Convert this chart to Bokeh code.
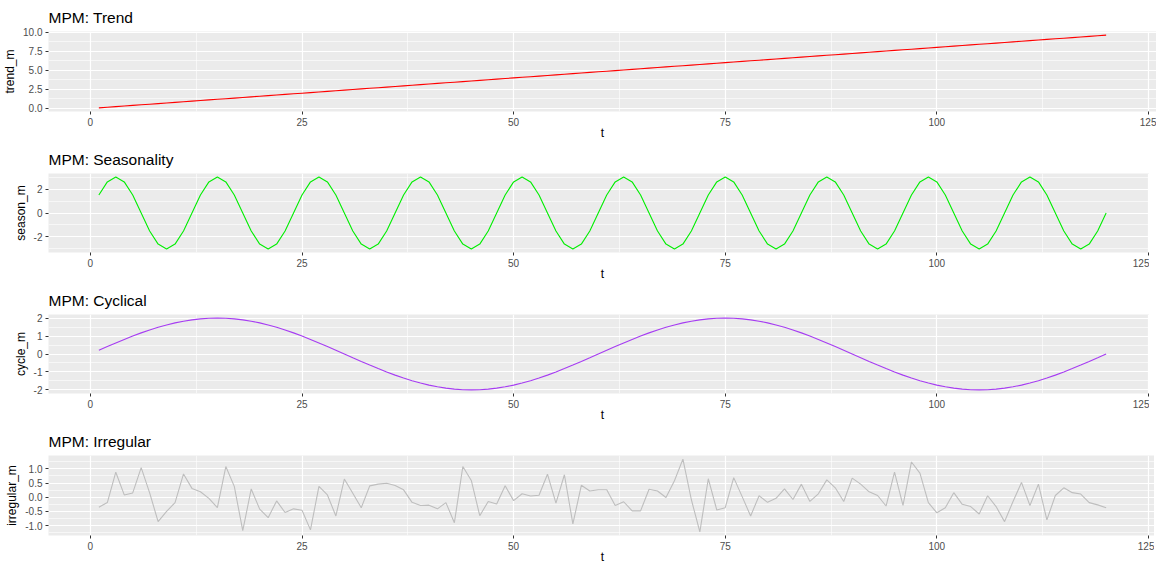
from bokeh.plotting import figure
from bokeh.layouts import column
from bokeh.models import Range1d, FixedTicker, PrintfTickFormatter
from bokeh.embed import file_html
from bokeh.resources import INLINE

t = list(range(1, 121))

trend_m = [
    0.08, 0.16, 0.24, 0.32, 0.40, 0.48, 0.56, 0.64, 0.72, 0.80,
    0.88, 0.96, 1.04, 1.12, 1.20, 1.28, 1.36, 1.44, 1.52, 1.60,
    1.68, 1.76, 1.84, 1.92, 2.00, 2.08, 2.16, 2.24, 2.32, 2.40,
    2.48, 2.56, 2.64, 2.72, 2.80, 2.88, 2.96, 3.04, 3.12, 3.20,
    3.28, 3.36, 3.44, 3.52, 3.60, 3.68, 3.76, 3.84, 3.92, 4.00,
    4.08, 4.16, 4.24, 4.32, 4.40, 4.48, 4.56, 4.64, 4.72, 4.80,
    4.88, 4.96, 5.04, 5.12, 5.20, 5.28, 5.36, 5.44, 5.52, 5.60,
    5.68, 5.76, 5.84, 5.92, 6.00, 6.08, 6.16, 6.24, 6.32, 6.40,
    6.48, 6.56, 6.64, 6.72, 6.80, 6.88, 6.96, 7.04, 7.12, 7.20,
    7.28, 7.36, 7.44, 7.52, 7.60, 7.68, 7.76, 7.84, 7.92, 8.00,
    8.08, 8.16, 8.24, 8.32, 8.40, 8.48, 8.56, 8.64, 8.72, 8.80,
    8.88, 8.96, 9.04, 9.12, 9.20, 9.28, 9.36, 9.44, 9.52, 9.60,
]

season_m = [
    1.5, 2.598, 3.0, 2.598, 1.5, 0.0, -1.5, -2.598, -3.0, -2.598, -1.5, 0.0,
    1.5, 2.598, 3.0, 2.598, 1.5, 0.0, -1.5, -2.598, -3.0, -2.598, -1.5, 0.0,
    1.5, 2.598, 3.0, 2.598, 1.5, 0.0, -1.5, -2.598, -3.0, -2.598, -1.5, 0.0,
    1.5, 2.598, 3.0, 2.598, 1.5, 0.0, -1.5, -2.598, -3.0, -2.598, -1.5, 0.0,
    1.5, 2.598, 3.0, 2.598, 1.5, 0.0, -1.5, -2.598, -3.0, -2.598, -1.5, 0.0,
    1.5, 2.598, 3.0, 2.598, 1.5, 0.0, -1.5, -2.598, -3.0, -2.598, -1.5, 0.0,
    1.5, 2.598, 3.0, 2.598, 1.5, 0.0, -1.5, -2.598, -3.0, -2.598, -1.5, 0.0,
    1.5, 2.598, 3.0, 2.598, 1.5, 0.0, -1.5, -2.598, -3.0, -2.598, -1.5, 0.0,
    1.5, 2.598, 3.0, 2.598, 1.5, 0.0, -1.5, -2.598, -3.0, -2.598, -1.5, 0.0,
    1.5, 2.598, 3.0, 2.598, 1.5, 0.0, -1.5, -2.598, -3.0, -2.598, -1.5, 0.0,
]

cycle_m = [
    0.209, 0.416, 0.618, 0.813, 1.0, 1.176, 1.338, 1.486, 1.618, 1.732,
    1.827, 1.902, 1.956, 1.989, 2.0, 1.989, 1.956, 1.902, 1.827, 1.732,
    1.618, 1.486, 1.338, 1.176, 1.0, 0.813, 0.618, 0.416, 0.209, 0.0,
    -0.209, -0.416, -0.618, -0.813, -1.0, -1.176, -1.338, -1.486, -1.618, -1.732,
    -1.827, -1.902, -1.956, -1.989, -2.0, -1.989, -1.956, -1.902, -1.827, -1.732,
    -1.618, -1.486, -1.338, -1.176, -1.0, -0.813, -0.618, -0.416, -0.209, 0.0,
    0.209, 0.416, 0.618, 0.813, 1.0, 1.176, 1.338, 1.486, 1.618, 1.732,
    1.827, 1.902, 1.956, 1.989, 2.0, 1.989, 1.956, 1.902, 1.827, 1.732,
    1.618, 1.486, 1.338, 1.176, 1.0, 0.813, 0.618, 0.416, 0.209, 0.0,
    -0.209, -0.416, -0.618, -0.813, -1.0, -1.176, -1.338, -1.486, -1.618, -1.732,
    -1.827, -1.902, -1.956, -1.989, -2.0, -1.989, -1.956, -1.902, -1.827, -1.732,
    -1.618, -1.486, -1.338, -1.176, -1.0, -0.813, -0.618, -0.416, -0.209, 0.0,
]

irregular_m = [
    -0.35, -0.19, 0.88, 0.08, 0.15, 1.04, 0.15, -0.86, -0.50, -0.19,
    0.82, 0.31, 0.19, -0.04, -0.37, 1.08, 0.38, -1.18, 0.29, -0.42,
    -0.72, -0.13, -0.54, -0.41, -0.46, -1.15, 0.38, 0.08, -0.66, 0.64,
    0.14, -0.37, 0.40, 0.46, 0.49, 0.41, 0.26, -0.18, -0.29, -0.28,
    -0.41, -0.19, -0.90, 1.08, 0.59, -0.65, -0.15, -0.24, 0.40, -0.12,
    0.12, 0.04, 0.07, 0.81, -0.21, 0.79, -0.94, 0.42, 0.22, 0.26,
    0.26, -0.29, -0.16, -0.48, -0.48, 0.28, 0.22, -0.01, 0.58, 1.34,
    -0.09, -1.22, 0.65, -0.45, -0.37, 0.69, 0.02, -0.66, 0.05, -0.18,
    -0.04, 0.29, -0.08, 0.46, -0.15, 0.12, 0.61, 0.33, -0.15, 0.67,
    0.46, 0.19, 0.06, -0.31, 0.88, -0.29, 1.24, 0.85, -0.19, -0.55,
    -0.37, 0.16, -0.25, -0.33, -0.59, 0.05, -0.33, -0.86, -0.15, 0.52,
    -0.29, 0.46, -0.80, 0.06, 0.33, 0.16, 0.11, -0.19, -0.27, -0.37,
]

x_ticks = [0, 25, 50, 75, 100, 125]
x_minor = [12.5, 37.5, 62.5, 87.5, 112.5]

panels = [
    ("MPM: Trend", "trend_m", trend_m, "#FF0000",
     [0, 2.5, 5, 7.5, 10], [1.25, 3.75, 6.25, 8.75], "%.1f"),
    ("MPM: Seasonality", "season_m", season_m, "#00EE00",
     [-2, 0, 2], [-3, -1, 1, 3], "%d"),
    ("MPM: Cyclical", "cycle_m", cycle_m, "#A63CF2",
     [-2, -1, 0, 1, 2], [-1.5, -0.5, 0.5, 1.5], "%d"),
    ("MPM: Irregular", "irregular_m", irregular_m, "#BEBEBE",
     [-1, -0.5, 0, 0.5, 1], [-1.25, -0.75, -0.25, 0.25, 0.75, 1.25], "%.1f"),
]
heights = [142, 141, 141, 142]

FONT = "Liberation Sans"
figs = []
xmin, xmax = min(t), max(t)
xpad = (xmax - xmin) * 0.05
for (title, ylab, ys, color, yt, ym, fmt), h in zip(panels, heights):
    ylo, yhi = min(ys), max(ys)
    ypad = (yhi - ylo) * 0.05
    p = figure(frame_width=1108, height=h,
               output_backend="svg", toolbar_location=None,
               x_range=Range1d(xmin - xpad, xmax + xpad),
               y_range=Range1d(ylo - ypad, yhi + ypad),
               min_border_left=41, min_border_right=0, min_border_top=0,
               min_border_bottom=0)
    p.title.text = title
    p.title.text_font = FONT
    p.title.text_font_size = "15.5px"
    p.title.text_font_style = "normal"
    p.title.text_color = "black"
    p.title.offset = 0
    p.title.standoff = 12
    p.background_fill_color = "#EBEBEB"
    p.border_fill_color = "white"
    p.outline_line_color = None

    p.line(t, ys, line_color=color, line_width=1.1)

    for ax in (p.xaxis[0], p.yaxis[0]):
        ax.axis_line_color = None
        ax.major_tick_line_color = "#333333"
        ax.major_tick_out = 3
        ax.major_tick_in = 0
        ax.minor_tick_line_color = None
        ax.major_label_text_font = FONT
        ax.major_label_text_font_size = "10px"
        ax.major_label_text_color = "#4D4D4D"
        ax.major_label_standoff = 2
        ax.axis_label_text_font = FONT
        ax.axis_label_text_font_size = "12px"
        ax.axis_label_text_font_style = "normal"
        ax.axis_label_text_color = "black"
    p.xaxis[0].axis_label_standoff = -3
    p.yaxis[0].axis_label_standoff = 3

    p.xaxis[0].ticker = FixedTicker(ticks=x_ticks, minor_ticks=x_minor)
    p.xaxis[0].formatter = PrintfTickFormatter(format="%d")
    p.xaxis[0].axis_label = "t"
    p.yaxis[0].ticker = FixedTicker(ticks=yt, minor_ticks=ym)
    p.yaxis[0].formatter = PrintfTickFormatter(format=fmt)
    p.yaxis[0].axis_label = ylab

    for g in (p.xgrid[0], p.ygrid[0]):
        g.grid_line_color = "white"
        g.grid_line_width = 1.2
        g.minor_grid_line_color = "white"
        g.minor_grid_line_width = 0.6
    figs.append(p)

layout = column(*figs, spacing=0)
open("out.html", "w").write(file_html(layout, INLINE))
